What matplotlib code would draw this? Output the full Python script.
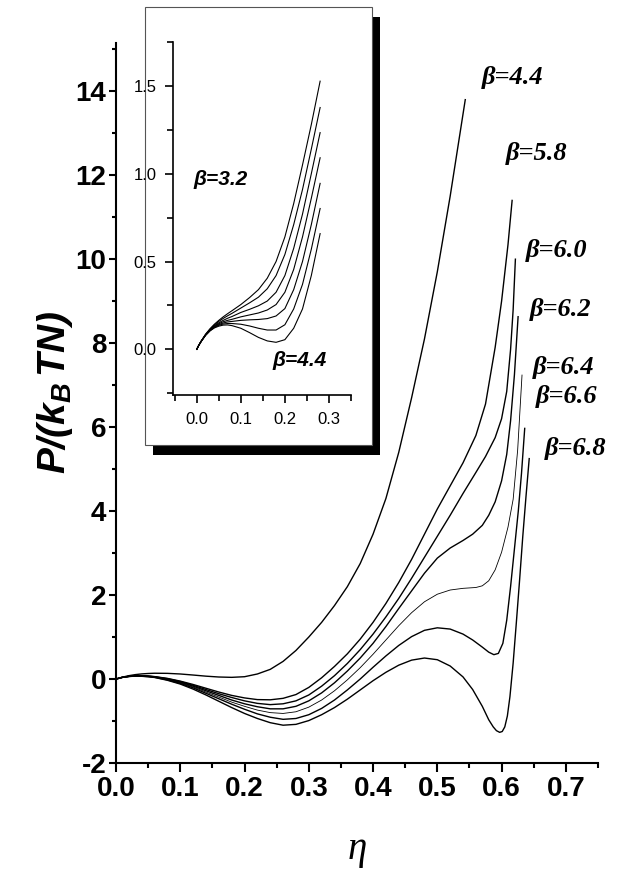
import matplotlib
matplotlib.use("Agg")
import matplotlib.pyplot as plt
from matplotlib.patches import Rectangle
from matplotlib.ticker import MultipleLocator, FormatStrFormatter

plt.rcParams['font.family'] = ['Liberation Sans', 'DejaVu Sans']
plt.rcParams['axes.unicode_minus'] = False
plt.rcParams['mathtext.fontset'] = 'custom'
plt.rcParams['mathtext.rm'] = 'Liberation Sans:bold:italic'
plt.rcParams['mathtext.it'] = 'Liberation Sans:bold:italic'

# ─── main panel: P/(kB T N) vs eta, one curve per beta ───────────────────────
betas = ["4.4", "5.8", "6.0", "6.2", "6.4", "6.6", "6.8"]

# shared eta grid up to 0.50, then each curve has its own steep tail
eta_grid = [0, 0.01, 0.02, 0.03, 0.04, 0.05, 0.06, 0.08, 0.10, 0.12, 0.14, 0.16,
            0.18, 0.20, 0.22, 0.24, 0.26, 0.28, 0.30, 0.32, 0.34, 0.36, 0.38,
            0.40, 0.42, 0.44, 0.46, 0.48, 0.50]

p_44 = [0, .045, .08, .105, .122, .132, .138, .135, .12, .095, .068, .048, .04, .055,
        .12, .23, .42, .68, 1.0, 1.35, 1.75, 2.2, 2.75, 3.45, 4.3, 5.4, 6.7, 8.1, 9.7]
p_58 = [0, .04, .065, .078, .08, .072, .058, .015, -.05, -.13, -.22, -.31, -.39, -.45,
        -.49, -.495, -.46, -.37, -.2, .03, .3, .6, .95, 1.35, 1.8, 2.3, 2.85, 3.45, 4.05]
p_60 = [0, .04, .064, .076, .077, .069, .054, .008, -.06, -.15, -.25, -.35, -.44, -.52,
        -.58, -.61, -.59, -.52, -.38, -.17, .08, .37, .7, 1.07, 1.48, 1.92, 2.4, 2.9, 3.4]
p_62 = [0, .04, .063, .074, .074, .066, .05, .0, -.075, -.17, -.28, -.39, -.5, -.59,
        -.66, -.71, -.71, -.65, -.52, -.33, -.09, .19, .5, .85, 1.25, 1.68, 2.1, 2.52, 2.88]
p_64 = [0, .04, .062, .072, .071, .062, .046, -.01, -.09, -.19, -.31, -.43, -.55, -.65,
        -.74, -.8, -.82, -.78, -.67, -.5, -.28, -.02, .27, .59, .93, 1.27, 1.58, 1.84, 2.02]
p_66 = [0, .04, .061, .07, .068, .058, .042, -.02, -.105, -.21, -.34, -.47, -.6, -.72,
        -.83, -.91, -.96, -.94, -.85, -.7, -.5, -.26, .0, .28, .55, .8, 1.01, 1.16, 1.22]
p_68 = [0, .04, .06, .068, .065, .054, .037, -.03, -.12, -.24, -.38, -.53, -.68, -.82,
        -.94, -1.04, -1.1, -1.08, -.99, -.85, -.68, -.48, -.26, -.04, .16, .33, .45, .5, .46]

tail_eta_44 = [0.52, 0.5435]
tail_p_44 = [11.5, 13.8]
tail_eta_58 = [0.52, 0.54, 0.56, 0.575, 0.59, 0.60, 0.61, 0.6164]
tail_p_58 = [4.6, 5.15, 5.8, 6.55, 7.9, 9.0, 10.35, 11.4]
tail_eta_60 = [0.52, 0.54, 0.56, 0.575, 0.59, 0.60, 0.608, 0.614, 0.618, 0.6215]
tail_p_60 = [3.9, 4.42, 4.92, 5.3, 5.75, 6.2, 6.85, 7.85, 8.8, 10.0]
tail_eta_62 = [0.52, 0.54, 0.555, 0.57, 0.58, 0.59, 0.60, 0.608, 0.614, 0.62, 0.6257]
tail_p_62 = [3.12, 3.3, 3.45, 3.66, 3.9, 4.22, 4.72, 5.35, 6.15, 7.25, 8.63]
tail_eta_64 = [0.52, 0.54, 0.56, 0.57, 0.58, 0.59, 0.60, 0.61, 0.618, 0.625, 0.6318]
tail_p_64 = [2.12, 2.16, 2.18, 2.22, 2.34, 2.6, 3.02, 3.62, 4.28, 5.45, 7.24]
tail_eta_66 = [0.52, 0.54, 0.555, 0.57, 0.58, 0.588, 0.595, 0.602, 0.608, 0.614,
               0.62, 0.626, 0.631, 0.636]
tail_p_66 = [1.19, 1.07, .93, .76, .64, .58, .61, .85, 1.4, 2.2, 3.1, 4.0, 4.9, 5.97]
tail_eta_68 = [0.52, 0.54, 0.555, 0.57, 0.58, 0.587, 0.592, 0.597, 0.601, 0.605,
               0.609, 0.613, 0.618, 0.623, 0.628, 0.633, 0.638, 0.643]
tail_p_68 = [.31, .05, -.25, -.65, -.97, -1.14, -1.23, -1.27, -1.25, -1.14, -.88,
             -.42, .38, 1.35, 2.35, 3.4, 4.35, 5.25]

main_p = [p_44, p_58, p_60, p_62, p_64, p_66, p_68]
tails_eta = [tail_eta_44, tail_eta_58, tail_eta_60, tail_eta_62, tail_eta_64,
             tail_eta_66, tail_eta_68]
tails_p = [tail_p_44, tail_p_58, tail_p_60, tail_p_62, tail_p_64, tail_p_66, tail_p_68]
main_lw = [1.0, 1.0, 1.0, 1.0, 0.6, 1.0, 1.0]
# label anchors (data coords)
label_xy = [(0.570, 14.33), (0.606, 12.52), (0.638, 10.21), (0.644, 8.79),
            (0.649, 7.43), (0.654, 6.74), (0.667, 5.50)]

# ─── inset: low-beta curves ──────────────────────────────────────────────────
inset_betas = ["3.2", "3.4", "3.6", "3.8", "4.0", "4.2", "4.4"]
inset_eta = [0, .005, .01, .02, .03, .04, .05, .06, .07, .08, .10, .12, .14, .16,
             .18, .20, .22, .24, .26, .28]
inset_p = [
    [0, .025, .047, .086, .117, .143, .165, .185, .203, .22, .255, .295, .34, .405, .5, .64, .83, 1.05, 1.28, 1.527],
    [0, .025, .046, .085, .115, .139, .159, .176, .191, .205, .235, .265, .297, .345, .42, .54, .71, .91, 1.14, 1.377],
    [0, .025, .046, .083, .111, .134, .151, .165, .177, .187, .21, .228, .248, .275, .325, .42, .575, .77, 1.0, 1.234],
    [0, .025, .046, .082, .109, .131, .146, .157, .165, .171, .185, .196, .207, .224, .255, .325, .455, .64, .86, 1.091],
    [0, .025, .045, .081, .107, .128, .141, .15, .156, .159, .165, .168, .17, .175, .19, .232, .34, .5, .71, .945],
    [0, .025, .045, .08, .106, .125, .137, .144, .147, .147, .143, .133, .12, .11, .11, .14, .23, .37, .57, .802],
    [0, .025, .045, .08, .105, .122, .132, .138, .139, .135, .12, .095, .068, .048, .04, .055, .12, .23, .42, .659],
]

# ─── figure ──────────────────────────────────────────────────────────────────
fig = plt.figure(figsize=(6.18, 8.77), dpi=100)
ax = fig.add_axes([0.1877, 0.130, 0.7799, 0.8210])

for ys, tx, ty, lw in zip(main_p, tails_eta, tails_p, main_lw):
    ax.plot(eta_grid + tx, ys + ty, color="black", lw=lw)

for b, (lx, ly) in zip(betas, label_xy):
    ax.text(lx, ly, f"β={b}", fontsize=19, fontweight="bold", fontstyle="italic",
            family=["Liberation Serif", "DejaVu Serif"], ha="left", va="center")

ax.set_xlim(0, 0.75)
ax.set_ylim(-2, 15.15)
ax.xaxis.set_major_locator(MultipleLocator(0.1))
ax.xaxis.set_minor_locator(MultipleLocator(0.05))
ax.yaxis.set_major_locator(MultipleLocator(2))
ax.yaxis.set_minor_locator(MultipleLocator(1))
ax.xaxis.set_major_formatter(FormatStrFormatter("%.1f"))
for s in ("top", "right"):
    ax.spines[s].set_visible(False)
for s in ("left", "bottom"):
    ax.spines[s].set_linewidth(1.5)
ax.tick_params(axis="x", which="major", direction="out", length=6.5, width=1.5, pad=3)
ax.tick_params(axis="x", which="minor", direction="out", length=3.5, width=1.5)
ax.tick_params(axis="y", which="major", direction="out", length=5, width=1.5, pad=2)
ax.tick_params(axis="y", which="minor", direction="out", length=3, width=1.5)
for lab in ax.get_xticklabels() + ax.get_yticklabels():
    lab.set_fontsize(20)
    lab.set_fontweight("bold")

fig.text(55 / 618, 1 - 392 / 877, r"$P/(k_B\,TN)$", rotation=90, fontsize=28,
         ha="center", va="center")
fig.text(357 / 618, 1 - 850 / 877, "η", fontsize=28, fontstyle="italic",
         family=["Liberation Serif", "DejaVu Serif"], ha="center", va="center")

# ─── inset with drop shadow ──────────────────────────────────────────────────
fig.patches.append(Rectangle((0.2476, 0.4812), 0.3673, 0.4994, transform=fig.transFigure,
                             facecolor="black", edgecolor="none", zorder=2))
fig.patches.append(Rectangle((0.2346, 0.4926), 0.3673, 0.4994, transform=fig.transFigure,
                             facecolor="white", edgecolor="#555555", lw=0.8, zorder=3))

ins = fig.add_axes([0.2799, 0.5496, 0.2880, 0.4025])
ins.set_zorder(5)
ins.patch.set_alpha(0)
for ys in inset_p:
    ins.plot(inset_eta, ys, color="black", lw=0.8)

ins.text(-0.008, 0.966, "β=3.2", fontsize=15, fontweight="bold", fontstyle="italic",
         ha="left", va="center")
ins.text(0.171, -0.066, "β=4.4", fontsize=15, fontweight="bold", fontstyle="italic",
         ha="left", va="center")

ins.set_xlim(-0.054, 0.35)
ins.set_ylim(-0.26, 1.75)
ins.xaxis.set_major_locator(MultipleLocator(0.1))
ins.xaxis.set_minor_locator(MultipleLocator(0.05))
ins.yaxis.set_major_locator(MultipleLocator(0.5))
ins.yaxis.set_minor_locator(MultipleLocator(0.25))
ins.xaxis.set_major_formatter(FormatStrFormatter("%.1f"))
ins.yaxis.set_major_formatter(FormatStrFormatter("%.1f"))
for s in ("top", "right"):
    ins.spines[s].set_visible(False)
for s in ("left", "bottom"):
    ins.spines[s].set_linewidth(1.2)
ins.tick_params(which="major", direction="out", length=6, width=1.2, labelsize=12, pad=6)
ins.tick_params(which="minor", direction="out", length=4, width=1.2)

fig.savefig("out.png", dpi=100)
